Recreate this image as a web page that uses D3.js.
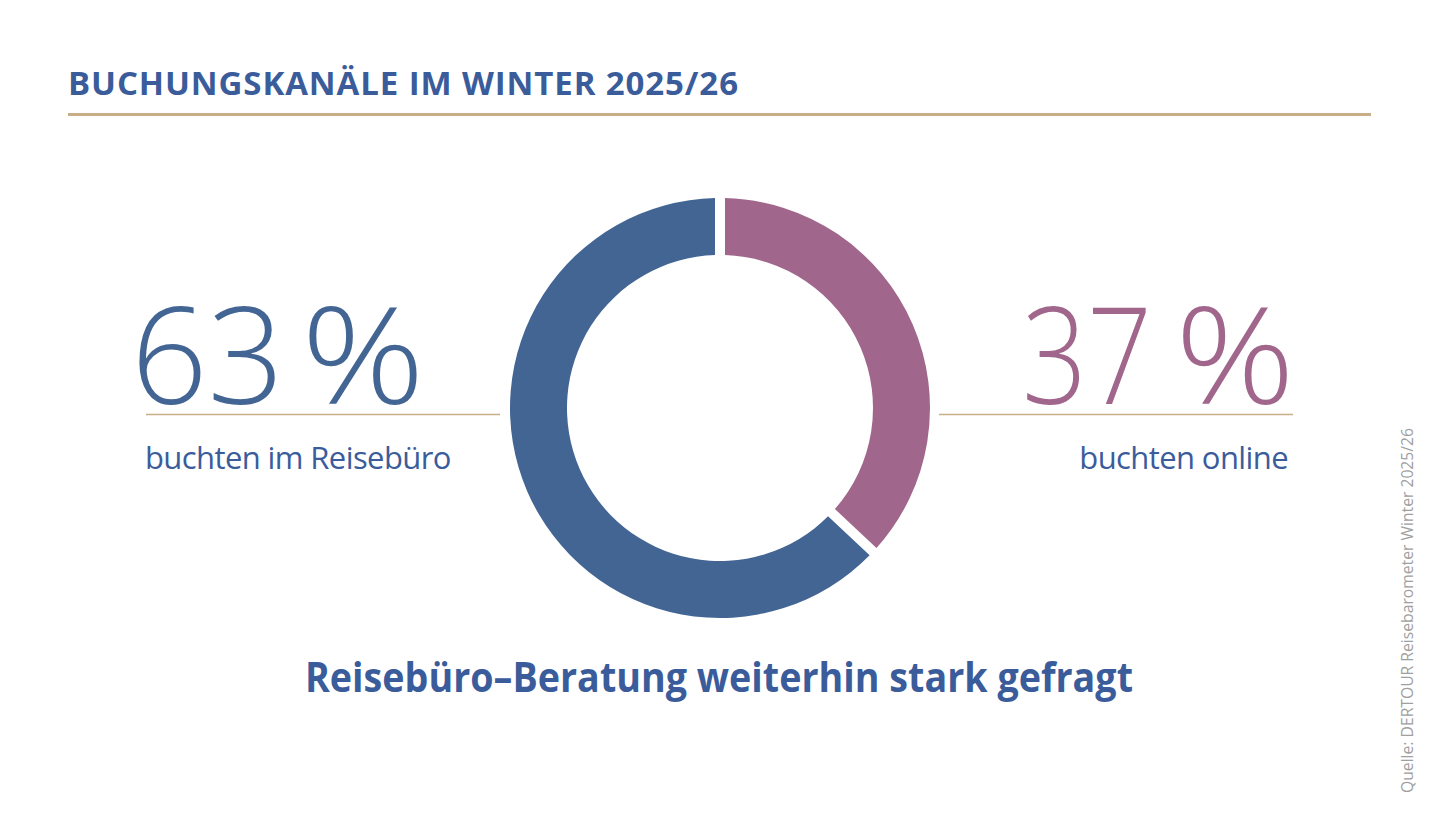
<!DOCTYPE html>
<html><head><meta charset="utf-8">
<script src="https://cdn.jsdelivr.net/npm/d3@7"></script>
<style>body{margin:0;background:#fff}svg{display:block}</style>
</head><body>
<svg id="c" width="1440" height="817"></svg>
<script>
const categories = ["buchten im Reisebüro", "buchten online"];
const values = [63, 37];
const valueLabels = ["63 %", "37 %"];
const colors = ["#436594", "#a1668c"];
const title = "BUCHUNGSKANÄLE IM WINTER 2025/26";
const subtitle = "Reisebüro–Beratung weiterhin stark gefragt";
const source = "Quelle: DERTOUR Reisebarometer Winter 2025/26";

const svg = d3.select("#c");
const font = "'Open Sans', sans-serif";

svg.append("text").attr("x", 68).attr("y", 95).text(title)
  .attr("font-family", font).attr("font-weight", 700).attr("font-size", 33)
  .attr("fill", "#3b5c9b").attr("textLength", 670).attr("lengthAdjust", "spacing");
svg.append("line").attr("x1", 68).attr("x2", 1371).attr("y1", 114.5).attr("y2", 114.5)
  .attr("stroke", "#c7ae88").attr("stroke-width", 3);

const cx = 720, cy = 408;
const pie = d3.pie().sort(null).value(d => d)
  .startAngle(0).endAngle(2 * Math.PI);
// online first clockwise from top, then Reisebüro
const order = [1, 0];
const arcs = pie(order.map(i => values[i]));
const arc = d3.arc().innerRadius(153).outerRadius(210).padAngle(0.05).padRadius(200);
svg.append("g").attr("transform", `translate(${cx},${cy})`)
  .selectAll("path").data(arcs).join("path")
  .attr("d", arc).attr("fill", (d, j) => colors[order[j]]);

const L = [{nx: 131, anchor: "start", nlen: null, px: 301, plen: 124, lx1: 146, lx2: 500, tx: 145},
           {nx: 1152, anchor: "end", nlen: 130, px: 1175, plen: 120, lx1: 939, lx2: 1293, tx: 1288}];
values.forEach((v, i) => {
  const p = L[i];
  const parts = valueLabels[i].split(" ");
  const n = svg.append("text").attr("x", p.nx).attr("y", 404).text(parts[0])
    .attr("font-family", font).attr("font-weight", 300).attr("font-size", 134)
    .attr("fill", colors[i]).attr("text-anchor", p.anchor);
  if (p.nlen) n.attr("textLength", p.nlen).attr("lengthAdjust", "spacingAndGlyphs");
  svg.append("text").attr("x", p.px).attr("y", 404).text(parts[1])
    .attr("font-family", font).attr("font-weight", 300).attr("font-size", 134)
    .attr("fill", colors[i]).attr("textLength", p.plen).attr("lengthAdjust", "spacingAndGlyphs");
  svg.append("line").attr("x1", p.lx1).attr("x2", p.lx2).attr("y1", 414.5).attr("y2", 414.5)
    .attr("stroke", "#c7ae88").attr("stroke-width", 1.5);
  svg.append("text").attr("x", p.tx).attr("y", 469).text(categories[i])
    .attr("font-family", font).attr("font-weight", 400).attr("font-size", 31)
    .attr("fill", "#3b5c9b").attr("text-anchor", p.anchor).attr("letter-spacing", -0.6);
});

svg.append("text").attr("x", 305).attr("y", 692).text(subtitle)
  .attr("font-family", font).attr("font-weight", 700).attr("font-size", 42)
  .attr("fill", "#3b5c9b").attr("textLength", 828).attr("lengthAdjust", "spacingAndGlyphs");

svg.append("text").attr("transform", "translate(1413,793) rotate(-90)").text(source)
  .attr("font-family", font).attr("font-weight", 400).attr("font-size", 16)
  .attr("fill", "#a0a0a0").attr("textLength", 365).attr("lengthAdjust", "spacingAndGlyphs");
</script>
</body></html>
